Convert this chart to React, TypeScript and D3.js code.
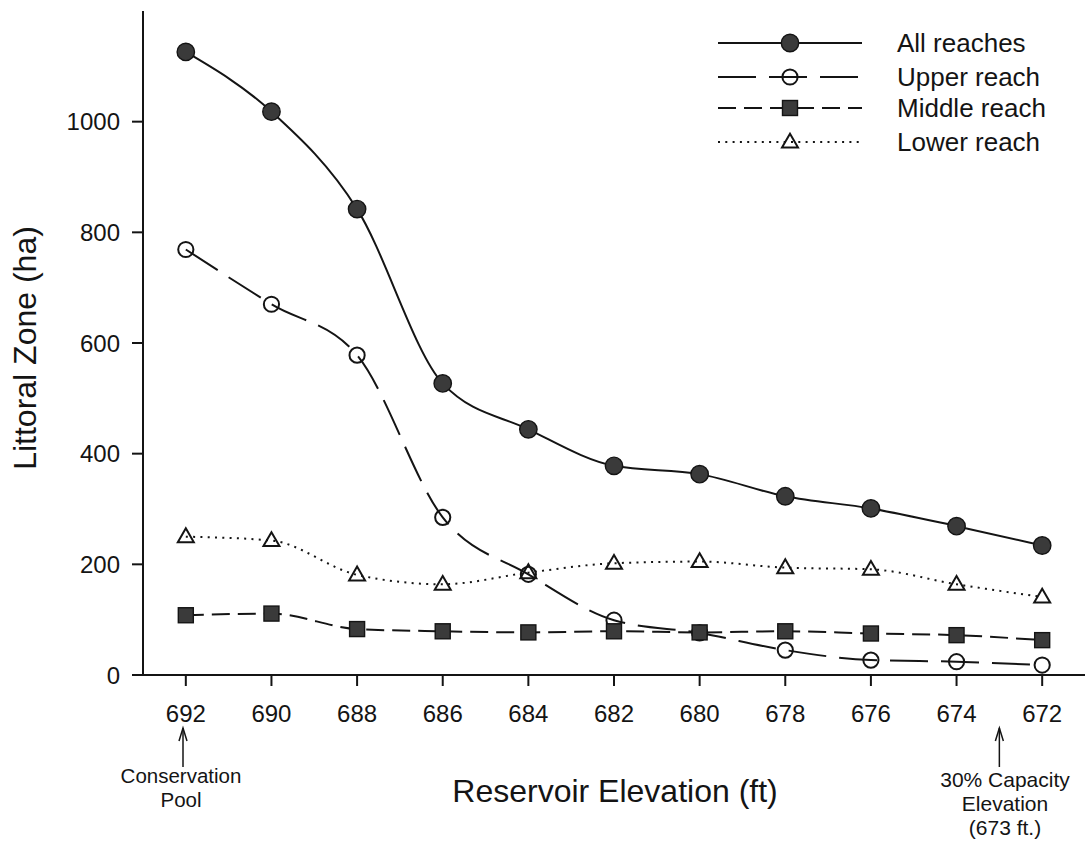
import React from "react";
import * as d3 from "d3";

// Reservoir elevation (ft) and littoral zone area (ha) for each reach
const elevations = [692, 690, 688, 686, 684, 682, 680, 678, 676, 674, 672];
const allReaches = [1126, 1018, 842, 527, 444, 378, 363, 323, 301, 269, 234];
const upperReach = [769, 670, 578, 285, 182, 99, 76, 45, 27, 24, 18];
const middleReach = [108, 111, 83, 79, 77, 79, 77, 79, 75, 72, 63];
const lowerReach = [250, 243, 181, 164, 185, 202, 205, 194, 191, 164, 141];

const yTicks = [0, 200, 400, 600, 800, 1000];
const seriesNames = ["All reaches", "Upper reach", "Middle reach", "Lower reach"];

const W = 1085;
const H = 841;
const FONT = "'Liberation Sans', Arial, Helvetica, sans-serif";
const INK = "#141414";
const FILL = "#3a3a3a";

const x = d3.scaleLinear().domain([693, 671]).range([143, 1085]);
const y = d3.scaleLinear().domain([0, 1200]).range([675, 11]);

type MarkerKind = "filledCircle" | "openCircle" | "square" | "triangle";

const series: { name: string; values: number[]; dash: string | undefined; marker: MarkerKind }[] = [
  { name: seriesNames[0], values: allReaches, dash: undefined, marker: "filledCircle" },
  { name: seriesNames[1], values: upperReach, dash: "38 13", marker: "openCircle" },
  { name: seriesNames[2], values: middleReach, dash: "18 8", marker: "square" },
  { name: seriesNames[3], values: lowerReach, dash: "2 5.3", marker: "triangle" },
];

function Marker({ kind, cx, cy }: { kind: MarkerKind; cx: number; cy: number }) {
  if (kind === "filledCircle") {
    return <circle cx={cx} cy={cy} r={8.7} fill={FILL} stroke={INK} strokeWidth={1.4} />;
  }
  if (kind === "openCircle") {
    return <circle cx={cx} cy={cy} r={7.6} fill="none" stroke={INK} strokeWidth={2} />;
  }
  if (kind === "square") {
    return <rect x={cx - 7.5} y={cy - 7.5} width={15} height={15} fill={FILL} stroke={INK} strokeWidth={1.4} />;
  }
  const s = 16;
  const h = s * 0.866;
  const pts = [
    [cx, cy - h * 0.6],
    [cx + s / 2, cy + h * 0.4],
    [cx - s / 2, cy + h * 0.4],
  ]
    .map((p) => p.join(","))
    .join(" ");
  return <polygon points={pts} fill="none" stroke={INK} strokeWidth={2} strokeLinejoin="miter" />;
}

function Arrow({ ax, top, bottom }: { ax: number; top: number; bottom: number }) {
  return (
    <g stroke={INK} strokeWidth={1.5} fill="none">
      <line x1={ax} y1={bottom} x2={ax} y2={top} />
      <polyline points={`${ax - 4},${top + 13} ${ax},${top} ${ax + 4},${top + 13}`} />
    </g>
  );
}

export default function App() {
  const line = d3
    .line<number>()
    .x((_, i) => x(elevations[i]))
    .y((d) => y(d))
    .curve(d3.curveMonotoneX);

  const legendX0 = 718;
  const legendX1 = 862;
  const legendMarkX = 790;
  const legendRows = [43, 77, 108, 142];

  return (
    <svg
      width={W}
      height={H}
      viewBox={`0 0 ${W} ${H}`}
      style={{ position: "absolute", left: 0, top: 0, background: "#fff" }}
      fontFamily={FONT}
    >
      <rect x={0} y={0} width={W} height={H} fill="#fff" />

      {/* axes */}
      <g stroke={INK} strokeWidth={2} fill="none">
        <line x1={x.range()[0]} y1={y(0)} x2={x.range()[1]} y2={y(0)} />
        <line x1={x.range()[0]} y1={y(0)} x2={x.range()[0]} y2={y(1200)} />
        {yTicks.map((t) => (
          <line key={`yt${t}`} x1={x.range()[0] - 11} y1={y(t)} x2={x.range()[0]} y2={y(t)} />
        ))}
        {elevations.map((e) => (
          <line key={`xt${e}`} x1={x(e)} y1={y(0)} x2={x(e)} y2={y(0) + 11} />
        ))}
      </g>

      {yTicks.map((t) => (
        <text key={`yl${t}`} x={120} y={y(t)} dy="0.36em" textAnchor="end" fontSize={24} fill={INK}>
          {t}
        </text>
      ))}
      {elevations.map((e) => (
        <text key={`xl${e}`} x={x(e)} y={722} textAnchor="middle" fontSize={24} fill={INK}>
          {e}
        </text>
      ))}

      {/* axis titles */}
      <text x={615} y={802} textAnchor="middle" fontSize={32} fill={INK}>
        Reservoir Elevation (ft)
      </text>
      <text
        transform={`translate(36, 348) rotate(-90)`}
        textAnchor="middle"
        fontSize={32}
        fill={INK}
      >
        Littoral Zone (ha)
      </text>

      {/* annotations */}
      <Arrow ax={183} top={728} bottom={767} />
      <text x={181} y={783} textAnchor="middle" fontSize={20.5} fill={INK}>
        Conservation
      </text>
      <text x={181} y={807} textAnchor="middle" fontSize={20.5} fill={INK}>
        Pool
      </text>
      <Arrow ax={x(673)} top={728} bottom={767} />
      <text x={1005} y={787} textAnchor="middle" fontSize={21} fill={INK}>
        30% Capacity
      </text>
      <text x={1005} y={811} textAnchor="middle" fontSize={21} fill={INK}>
        Elevation
      </text>
      <text x={1005} y={835} textAnchor="middle" fontSize={21} fill={INK}>
        (673 ft.)
      </text>

      {/* series lines */}
      {series.map((s) => (
        <path
          key={`l${s.name}`}
          d={line(s.values) ?? ""}
          fill="none"
          stroke={INK}
          strokeWidth={2}
          strokeDasharray={s.dash}
        />
      ))}

      {/* series markers */}
      {series.map((s) => (
        <g key={`m${s.name}`}>
          {s.values.map((v, i) => (
            <Marker key={i} kind={s.marker} cx={x(elevations[i])} cy={y(v)} />
          ))}
        </g>
      ))}

      {/* legend */}
      {series.map((s, i) => (
        <g key={`lg${s.name}`}>
          <line
            x1={legendX0}
            x2={legendX1}
            y1={legendRows[i]}
            y2={legendRows[i]}
            stroke={INK}
            strokeWidth={2}
            strokeDasharray={s.dash}
          />
          <Marker kind={s.marker} cx={legendMarkX} cy={legendRows[i]} />
          <text x={897} y={legendRows[i]} dy="0.36em" fontSize={26} fill={INK}>
            {s.name}
          </text>
        </g>
      ))}
    </svg>
  );
}
